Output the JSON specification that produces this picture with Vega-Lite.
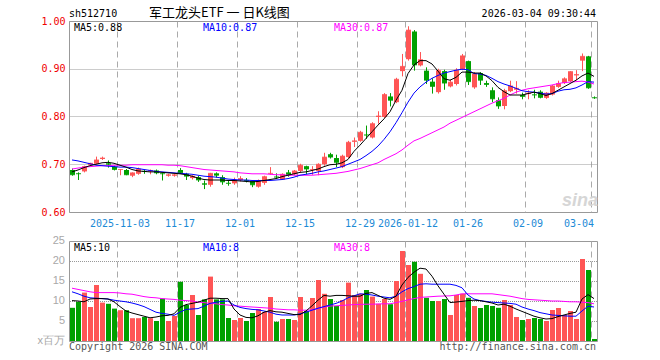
{
 "$schema": "https://vega.github.io/schema/vega-lite/v6.json",
 "background": "#FFFFFF",
 "autosize": {"type": "pad"},
 "padding": {"left": 37, "top": 6, "right": 0, "bottom": 0},
 "config": {
  "view": {"stroke": "#999999", "strokeWidth": 1},
  "axis": {"ticks": false, "domain": false, "labelFont": "DejaVu Sans Mono", "labelFontSize": 10, "labelOverlap": false},
  "text": {"font": "DejaVu Sans Mono", "fontSize": 10}
 },
 "datasets": {
  "k": [
   {"d":"2025-10-22","o":0.688,"h":0.691,"l":0.676,"c":0.678,"v":8.3,"m5":0.684,"m10":0.709,"m30":0.690,"v5":10.1,"v10":12.3,"v30":13.2},
   {"d":"2025-10-23","o":0.681,"h":0.683,"l":0.667,"c":0.680,"v":9.8,"m5":0.688,"m10":0.707,"m30":0.692,"v5":10.0,"v10":11.8,"v30":12.9},
   {"d":"2025-10-24","o":0.685,"h":0.697,"l":0.683,"c":0.695,"v":12.1,"m5":0.693,"m10":0.704,"m30":0.694,"v5":9.8,"v10":11.2,"v30":12.6},
   {"d":"2025-10-27","o":0.698,"h":0.703,"l":0.697,"c":0.702,"v":8.5,"m5":0.697,"m10":0.701,"m30":0.695,"v5":10.5,"v10":10.8,"v30":12.3},
   {"d":"2025-10-28","o":0.701,"h":0.716,"l":0.700,"c":0.709,"v":14.0,"m5":0.700,"m10":0.698,"m30":0.696,"v5":10.6,"v10":10.7,"v30":12.1},
   {"d":"2025-10-29","o":0.711,"h":0.716,"l":0.709,"c":0.713,"v":9.6,"m5":0.703,"m10":0.697,"m30":0.697,"v5":10.6,"v10":10.6,"v30":12.1},
   {"d":"2025-10-30","o":0.702,"h":0.708,"l":0.693,"c":0.700,"v":9.3,"m5":0.704,"m10":0.696,"m30":0.697,"v5":10.5,"v10":10.5,"v30":12.1},
   {"d":"2025-10-31","o":0.695,"h":0.697,"l":0.687,"c":0.689,"v":8.1,"m5":0.702,"m10":0.695,"m30":0.698,"v5":9.8,"v10":10.2,"v30":12.1},
   {"d":"2025-11-03","o":0.688,"h":0.690,"l":0.677,"c":0.689,"v":7.7,"m5":0.698,"m10":0.694,"m30":0.698,"v5":8.6,"v10":10.0,"v30":12.0},
   {"d":"2025-11-04","o":0.688,"h":0.690,"l":0.677,"c":0.678,"v":7.7,"m5":0.694,"m10":0.694,"m30":0.698,"v5":7.5,"v10":9.8,"v30":11.8},
   {"d":"2025-11-05","o":0.676,"h":0.683,"l":0.673,"c":0.682,"v":5.7,"m5":0.689,"m10":0.693,"m30":0.699,"v5":7.0,"v10":9.5,"v30":11.7},
   {"d":"2025-11-06","o":0.680,"h":0.693,"l":0.678,"c":0.690,"v":5.7,"m5":0.686,"m10":0.691,"m30":0.699,"v5":6.6,"v10":9.1,"v30":11.4},
   {"d":"2025-11-07","o":0.686,"h":0.688,"l":0.680,"c":0.685,"v":6.0,"m5":0.685,"m10":0.689,"m30":0.699,"v5":6.2,"v10":8.6,"v30":11.1},
   {"d":"2025-11-10","o":0.685,"h":0.689,"l":0.679,"c":0.687,"v":5.7,"m5":0.684,"m10":0.687,"m30":0.699,"v5":5.8,"v10":7.9,"v30":10.9},
   {"d":"2025-11-11","o":0.687,"h":0.689,"l":0.679,"c":0.682,"v":5.0,"m5":0.684,"m10":0.685,"m30":0.699,"v5":6.0,"v10":7.2,"v30":10.8},
   {"d":"2025-11-12","o":0.681,"h":0.682,"l":0.666,"c":0.680,"v":10.6,"m5":0.683,"m10":0.684,"m30":0.699,"v5":6.3,"v10":6.9,"v30":10.6},
   {"d":"2025-11-13","o":0.676,"h":0.680,"l":0.674,"c":0.678,"v":5.0,"m5":0.682,"m10":0.683,"m30":0.698,"v5":6.4,"v10":6.7,"v30":10.5},
   {"d":"2025-11-14","o":0.676,"h":0.680,"l":0.674,"c":0.678,"v":6.25,"m5":0.681,"m10":0.682,"m30":0.698,"v5":6.8,"v10":6.4,"v30":10.4},
   {"d":"2025-11-17","o":0.688,"h":0.692,"l":0.680,"c":0.682,"v":14.8,"m5":0.680,"m10":0.681,"m30":0.697,"v5":8.4,"v10":7.2,"v30":10.2},
   {"d":"2025-11-18","o":0.680,"h":0.682,"l":0.667,"c":0.675,"v":9.0,"m5":0.678,"m10":0.680,"m30":0.695,"v5":9.1,"v10":7.9,"v30":10.1},
   {"d":"2025-11-19","o":0.671,"h":0.677,"l":0.668,"c":0.675,"v":11.5,"m5":0.675,"m10":0.679,"m30":0.693,"v5":9.4,"v10":8.0,"v30":10.0},
   {"d":"2025-11-20","o":0.673,"h":0.676,"l":0.663,"c":0.667,"v":6.5,"m5":0.671,"m10":0.677,"m30":0.691,"v5":9.7,"v10":8.1,"v30":9.7},
   {"d":"2025-11-21","o":0.660,"h":0.666,"l":0.648,"c":0.658,"v":10.4,"m5":0.668,"m10":0.675,"m30":0.689,"v5":10.2,"v10":8.7,"v30":9.6},
   {"d":"2025-11-24","o":0.657,"h":0.682,"l":0.653,"c":0.681,"v":16.1,"m5":0.667,"m10":0.674,"m30":0.688,"v5":10.7,"v10":9.4,"v30":9.4},
   {"d":"2025-11-25","o":0.681,"h":0.683,"l":0.672,"c":0.677,"v":10.4,"m5":0.667,"m10":0.673,"m30":0.687,"v5":10.7,"v10":9.7,"v30":9.3},
   {"d":"2025-11-26","o":0.673,"h":0.677,"l":0.657,"c":0.663,"v":10.4,"m5":0.667,"m10":0.671,"m30":0.686,"v5":10.6,"v10":9.9,"v30":9.1},
   {"d":"2025-11-27","o":0.661,"h":0.665,"l":0.655,"c":0.660,"v":5.75,"m5":0.666,"m10":0.669,"m30":0.685,"v5":10.6,"v10":10.0,"v30":9.0},
   {"d":"2025-11-28","o":0.660,"h":0.672,"l":0.657,"c":0.666,"v":5.25,"m5":0.666,"m10":0.668,"m30":0.684,"v5":8.0,"v10":9.0,"v30":8.8},
   {"d":"2025-12-01","o":0.667,"h":0.675,"l":0.664,"c":0.670,"v":5.75,"m5":0.665,"m10":0.667,"m30":0.682,"v5":6.5,"v10":8.4,"v30":8.7},
   {"d":"2025-12-02","o":0.667,"h":0.671,"l":0.662,"c":0.666,"v":5.0,"m5":0.664,"m10":0.667,"m30":0.681,"v5":5.9,"v10":8.1,"v30":8.6},
   {"d":"2025-12-03","o":0.665,"h":0.667,"l":0.652,"c":0.657,"v":7.0,"m5":0.663,"m10":0.666,"m30":0.680,"v5":5.8,"v10":7.9,"v30":8.5},
   {"d":"2025-12-04","o":0.653,"h":0.668,"l":0.651,"c":0.666,"v":8.0,"m5":0.664,"m10":0.666,"m30":0.680,"v5":6.3,"v10":7.8,"v30":8.4},
   {"d":"2025-12-05","o":0.661,"h":0.676,"l":0.657,"c":0.674,"v":7.25,"m5":0.666,"m10":0.666,"m30":0.680,"v5":7.2,"v10":7.5,"v30":8.3},
   {"d":"2025-12-08","o":0.680,"h":0.694,"l":0.678,"c":0.681,"v":11.0,"m5":0.668,"m10":0.666,"m30":0.679,"v5":7.6,"v10":7.2,"v30":8.2},
   {"d":"2025-12-09","o":0.674,"h":0.681,"l":0.670,"c":0.673,"v":4.8,"m5":0.670,"m10":0.667,"m30":0.678,"v5":7.3,"v10":6.7,"v30":8.0},
   {"d":"2025-12-10","o":0.668,"h":0.681,"l":0.667,"c":0.679,"v":5.5,"m5":0.674,"m10":0.668,"m30":0.678,"v5":7.2,"v10":6.5,"v30":7.9},
   {"d":"2025-12-11","o":0.683,"h":0.688,"l":0.674,"c":0.678,"v":5.5,"m5":0.677,"m10":0.670,"m30":0.677,"v5":6.9,"v10":6.5,"v30":7.8},
   {"d":"2025-12-12","o":0.679,"h":0.688,"l":0.677,"c":0.686,"v":5.25,"m5":0.680,"m10":0.673,"m30":0.677,"v5":6.6,"v10":6.5,"v30":7.8},
   {"d":"2025-12-15","o":0.686,"h":0.701,"l":0.683,"c":0.698,"v":11.0,"m5":0.683,"m10":0.677,"m30":0.677,"v5":6.6,"v10":6.8,"v30":7.7},
   {"d":"2025-12-16","o":0.696,"h":0.697,"l":0.679,"c":0.690,"v":7.5,"m5":0.684,"m10":0.679,"m30":0.677,"v5":7.5,"v10":7.2,"v30":7.7},
   {"d":"2025-12-17","o":0.688,"h":0.696,"l":0.678,"c":0.689,"v":10.75,"m5":0.687,"m10":0.681,"m30":0.677,"v5":8.8,"v10":7.7,"v30":7.8},
   {"d":"2025-12-18","o":0.686,"h":0.702,"l":0.677,"c":0.700,"v":15.25,"m5":0.690,"m10":0.684,"m30":0.678,"v5":10.2,"v10":8.2,"v30":8.1},
   {"d":"2025-12-19","o":0.700,"h":0.724,"l":0.697,"c":0.715,"v":11.8,"m5":0.695,"m10":0.686,"m30":0.679,"v5":11.4,"v10":8.6,"v30":8.5},
   {"d":"2025-12-22","o":0.721,"h":0.724,"l":0.712,"c":0.715,"v":10.5,"m5":0.699,"m10":0.689,"m30":0.680,"v5":11.2,"v10":9.0,"v30":8.75},
   {"d":"2025-12-23","o":0.713,"h":0.720,"l":0.694,"c":0.704,"v":8.75,"m5":0.700,"m10":0.692,"m30":0.681,"v5":11.4,"v10":9.4,"v30":8.8},
   {"d":"2025-12-24","o":0.694,"h":0.720,"l":0.692,"c":0.717,"v":10.25,"m5":0.703,"m10":0.695,"m30":0.683,"v5":11.4,"v10":10.0,"v30":8.9},
   {"d":"2025-12-25","o":0.715,"h":0.749,"l":0.713,"c":0.746,"v":14.6,"m5":0.710,"m10":0.700,"m30":0.685,"v5":11.3,"v10":10.8,"v30":9.0},
   {"d":"2025-12-26","o":0.747,"h":0.756,"l":0.736,"c":0.749,"v":11.5,"m5":0.727,"m10":0.705,"m30":0.688,"v5":11.2,"v10":11.3,"v30":9.1},
   {"d":"2025-12-29","o":0.749,"h":0.770,"l":0.747,"c":0.767,"v":11.8,"m5":0.740,"m10":0.710,"m30":0.691,"v5":11.2,"v10":11.8,"v30":9.15},
   {"d":"2025-12-30","o":0.762,"h":0.781,"l":0.753,"c":0.761,"v":12.75,"m5":0.754,"m10":0.718,"m30":0.695,"v5":11.9,"v10":11.7,"v30":9.2},
   {"d":"2025-12-31","o":0.756,"h":0.788,"l":0.754,"c":0.785,"v":11.1,"m5":0.768,"m10":0.727,"m30":0.699,"v5":12.1,"v10":11.5,"v30":9.2},
   {"d":"2026-01-05","o":0.799,"h":0.811,"l":0.785,"c":0.801,"v":9.3,"m5":0.782,"m10":0.738,"m30":0.703,"v5":11.4,"v10":11.2,"v30":9.25},
   {"d":"2026-01-06","o":0.799,"h":0.849,"l":0.797,"c":0.846,"v":10.5,"m5":0.795,"m10":0.752,"m30":0.710,"v5":10.7,"v10":11.0,"v30":9.3},
   {"d":"2026-01-07","o":0.842,"h":0.849,"l":0.821,"c":0.834,"v":9.2,"m5":0.810,"m10":0.768,"m30":0.716,"v5":10.4,"v10":10.8,"v30":9.3},
   {"d":"2026-01-08","o":0.830,"h":0.881,"l":0.828,"c":0.878,"v":15.0,"m5":0.834,"m10":0.787,"m30":0.722,"v5":11.2,"v10":11.2,"v30":9.6},
   {"d":"2026-01-09","o":0.895,"h":0.931,"l":0.884,"c":0.905,"v":22.5,"m5":0.855,"m10":0.808,"m30":0.730,"v5":14.0,"v10":12.3,"v30":9.9},
   {"d":"2026-01-12","o":0.920,"h":0.989,"l":0.917,"c":0.981,"v":19.0,"m5":0.890,"m10":0.830,"m30":0.740,"v5":15.9,"v10":13.1,"v30":10.3},
   {"d":"2026-01-13","o":0.978,"h":0.981,"l":0.896,"c":0.908,"v":19.8,"m5":0.908,"m10":0.849,"m30":0.749,"v5":17.2,"v10":13.6,"v30":10.6},
   {"d":"2026-01-14","o":0.907,"h":0.935,"l":0.905,"c":0.919,"v":16.8,"m5":0.917,"m10":0.862,"m30":0.754,"v5":18.2,"v10":14.2,"v30":10.9},
   {"d":"2026-01-15","o":0.896,"h":0.903,"l":0.868,"c":0.876,"v":10.8,"m5":0.917,"m10":0.872,"m30":0.760,"v5":18.0,"v10":14.3,"v30":11.0},
   {"d":"2026-01-16","o":0.873,"h":0.880,"l":0.848,"c":0.863,"v":10.0,"m5":0.910,"m10":0.880,"m30":0.766,"v5":16.2,"v10":14.2,"v30":11.1},
   {"d":"2026-01-19","o":0.851,"h":0.900,"l":0.848,"c":0.896,"v":10.0,"m5":0.895,"m10":0.886,"m30":0.772,"v5":13.8,"v10":14.2,"v30":11.2},
   {"d":"2026-01-20","o":0.895,"h":0.898,"l":0.856,"c":0.870,"v":10.5,"m5":0.879,"m10":0.891,"m30":0.778,"v5":11.7,"v10":14.2,"v30":11.25},
   {"d":"2026-01-21","o":0.863,"h":0.877,"l":0.861,"c":0.872,"v":6.5,"m5":0.876,"m10":0.894,"m30":0.786,"v5":9.6,"v10":14.2,"v30":11.3},
   {"d":"2026-01-22","o":0.868,"h":0.901,"l":0.865,"c":0.897,"v":11.5,"m5":0.882,"m10":0.897,"m30":0.792,"v5":9.75,"v10":13.9,"v30":11.5},
   {"d":"2026-01-23","o":0.899,"h":0.931,"l":0.897,"c":0.927,"v":11.8,"m5":0.893,"m10":0.899,"m30":0.798,"v5":9.9,"v10":13.3,"v30":11.8},
   {"d":"2026-01-26","o":0.916,"h":0.917,"l":0.866,"c":0.873,"v":10.8,"m5":0.893,"m10":0.898,"m30":0.804,"v5":10.1,"v10":11.5,"v30":11.8},
   {"d":"2026-01-27","o":0.861,"h":0.893,"l":0.858,"c":0.889,"v":8.75,"m5":0.891,"m10":0.890,"m30":0.810,"v5":10.2,"v10":10.5,"v30":11.8},
   {"d":"2026-01-28","o":0.891,"h":0.893,"l":0.866,"c":0.876,"v":8.25,"m5":0.891,"m10":0.889,"m30":0.816,"v5":10.1,"v10":10.1,"v30":11.8},
   {"d":"2026-01-29","o":0.870,"h":0.875,"l":0.862,"c":0.867,"v":9.0,"m5":0.885,"m10":0.886,"m30":0.822,"v5":9.8,"v10":9.9,"v30":11.8},
   {"d":"2026-01-30","o":0.855,"h":0.861,"l":0.830,"c":0.837,"v":8.75,"m5":0.875,"m10":0.880,"m30":0.828,"v5":9.5,"v10":9.7,"v30":11.8},
   {"d":"2026-02-02","o":0.834,"h":0.840,"l":0.816,"c":0.822,"v":8.3,"m5":0.861,"m10":0.873,"m30":0.833,"v5":9.0,"v10":9.6,"v30":11.6},
   {"d":"2026-02-03","o":0.822,"h":0.858,"l":0.815,"c":0.854,"v":10.25,"m5":0.852,"m10":0.868,"m30":0.838,"v5":9.2,"v10":9.5,"v30":11.4},
   {"d":"2026-02-04","o":0.853,"h":0.875,"l":0.851,"c":0.864,"v":9.0,"m5":0.845,"m10":0.864,"m30":0.845,"v5":8.7,"v10":9.4,"v30":11.2},
   {"d":"2026-02-05","o":0.856,"h":0.874,"l":0.848,"c":0.859,"v":6.0,"m5":0.845,"m10":0.859,"m30":0.851,"v5":8.0,"v10":9.2,"v30":10.9},
   {"d":"2026-02-06","o":0.845,"h":0.850,"l":0.836,"c":0.842,"v":5.25,"m5":0.845,"m10":0.854,"m30":0.855,"v5":7.4,"v10":8.5,"v30":10.6},
   {"d":"2026-02-09","o":0.847,"h":0.855,"l":0.836,"c":0.849,"v":5.5,"m5":0.848,"m10":0.852,"m30":0.858,"v5":6.8,"v10":8.0,"v30":10.4},
   {"d":"2026-02-10","o":0.846,"h":0.856,"l":0.838,"c":0.845,"v":5.75,"m5":0.851,"m10":0.851,"m30":0.860,"v5":6.2,"v10":7.6,"v30":10.3},
   {"d":"2026-02-11","o":0.852,"h":0.855,"l":0.838,"c":0.840,"v":5.5,"m5":0.848,"m10":0.849,"m30":0.862,"v5":5.8,"v10":7.1,"v30":10.2},
   {"d":"2026-02-12","o":0.839,"h":0.851,"l":0.837,"c":0.849,"v":5.0,"m5":0.844,"m10":0.847,"m30":0.864,"v5":5.5,"v10":6.8,"v30":10.1},
   {"d":"2026-02-13","o":0.846,"h":0.866,"l":0.844,"c":0.864,"v":7.75,"m5":0.848,"m10":0.848,"m30":0.866,"v5":5.6,"v10":6.5,"v30":10.0},
   {"d":"2026-02-24","o":0.862,"h":0.875,"l":0.860,"c":0.869,"v":8.25,"m5":0.855,"m10":0.853,"m30":0.869,"v5":6.1,"v10":6.4,"v30":10.0},
   {"d":"2026-02-25","o":0.870,"h":0.882,"l":0.868,"c":0.879,"v":6.5,"m5":0.862,"m10":0.856,"m30":0.871,"v5":6.5,"v10":6.3,"v30":9.9},
   {"d":"2026-02-26","o":0.874,"h":0.895,"l":0.872,"c":0.894,"v":7.5,"m5":0.869,"m10":0.857,"m30":0.872,"v5":6.9,"v10":6.2,"v30":9.8},
   {"d":"2026-02-27","o":0.886,"h":0.897,"l":0.876,"c":0.888,"v":5.5,"m5":0.876,"m10":0.860,"m30":0.873,"v5":7.2,"v10":6.2,"v30":9.8},
   {"d":"2026-03-02","o":0.917,"h":0.932,"l":0.895,"c":0.926,"v":20.5,"m5":0.885,"m10":0.866,"m30":0.874,"v5":10.5,"v10":7.5,"v30":9.7},
   {"d":"2026-03-03","o":0.926,"h":0.927,"l":0.858,"c":0.860,"v":17.75,"m5":0.891,"m10":0.873,"m30":0.872,"v5":11.6,"v10":8.7,"v30":9.6},
   {"d":"2026-03-04","o":0.840,"h":0.842,"l":0.837,"c":0.839,"v":0.5,"m5":0.884,"m10":0.872,"m30":0.868,"v5":10.6,"v10":8.5,"v30":9.3}
  ],
  "vt": [
   {"t": 0, "s": "x百万"},
   {"t": 5, "s": "5"},
   {"t": 10, "s": "10"},
   {"t": 15, "s": "15"},
   {"t": 20, "s": "20"},
   {"t": 25, "s": "25"}
  ]
 },
 "spacing": 29,
 "bounds": "flush",
 "vconcat": [
  {
   "width": 528,
   "height": 191,
   "data": {"name": "k"},
   "encoding": {
    "x": {"field": "d", "type": "ordinal", "title": null,
     "scale": {"type": "band", "paddingInner": 0, "paddingOuter": 0},
     "axis": {
      "values": ["2025-11-03","2025-11-17","2025-12-01","2025-12-15","2025-12-29","2026-01-12","2026-01-26","2026-02-09","2026-03-04"],
      "bandPosition": 0,
      "labelExpr": "datum.value == '2025-11-03' || datum.value == '2026-01-12' ? datum.value : slice(datum.value, 5)",
      "labelAngle": 0,
      "labelColor": "#1C8AD6",
      "labelPadding": 6,
      "labelAlign": {"condition": {"test": "datum.value == '2026-03-04'", "value": "right"}, "value": "center"},
      "grid": true, "gridColor": "#AAAAAA", "gridDash": [6, 4], "gridWidth": 1
     }
    }
   },
   "layer": [
    {
     "mark": {"type": "rule", "xOffset": 0.5, "strokeWidth": 1},
     "encoding": {
      "y": {"field": "l", "type": "quantitative", "title": null,
       "scale": {"domain": [0.6, 1.0], "zero": false, "nice": false},
       "axis": {"values": [0.6, 0.7, 0.8, 0.9, 1.0], "tickCount": 5, "format": ".2f", "labelColor": "#F00000", "labelPadding": 4,
        "grid": true, "gridColor": "#999999", "gridDash": [1, 1]}},
      "y2": {"field": "h"},
      "color": {"condition": {"test": "datum.c >= datum.o", "value": "#FF5555"}, "value": "#00A000"}
     }
    },
    {
     "mark": {"type": "bar", "size": 5, "xOffset": 0.5},
     "encoding": {
      "y": {"field": "o", "type": "quantitative", "title": null},
      "y2": {"field": "c"},
      "color": {"condition": {"test": "datum.c >= datum.o", "value": "#FF5555"}, "value": "#00A000"}
     }
    },
    {
     "mark": {"type": "tick", "size": 5, "thickness": 1, "xOffset": 0.5},
     "encoding": {
      "y": {"field": "c", "type": "quantitative", "title": null},
      "color": {"condition": {"test": "datum.c >= datum.o", "value": "#FF5555"}, "value": "#00A000"}
     }
    },
    {"mark": {"type": "line", "color": "#FF00FF", "strokeWidth": 1}, "encoding": {"y": {"field": "m30", "type": "quantitative", "title": null}}},
    {"mark": {"type": "line", "color": "#0000FF", "strokeWidth": 1}, "encoding": {"y": {"field": "m10", "type": "quantitative", "title": null}}},
    {"mark": {"type": "line", "color": "#000000", "strokeWidth": 1}, "encoding": {"y": {"field": "m5", "type": "quantitative", "title": null}}},
    {
     "data": {"values": [{}]},
     "mark": {"type": "text", "align": "left", "baseline": "alphabetic", "dx": -3, "dy": -4, "color": "#000000"},
     "encoding": {"x": {"datum": "2025-10-22"}, "y": {"datum": 1.0}, "text": {"value": "sh512710"}}
    },
    {
     "data": {"values": [{}]},
     "mark": {"type": "text", "align": "left", "baseline": "alphabetic", "dx": -1, "dy": -4, "font": "Noto Sans CJK SC", "fontSize": 13, "color": "#000000"},
     "encoding": {"x": {"datum": "2025-11-10"}, "y": {"datum": 1.0}, "text": {"value": "军工龙头ETF 一 日K线图"}}
    },
    {
     "data": {"values": [{}]},
     "mark": {"type": "text", "align": "right", "baseline": "alphabetic", "dx": 2, "dy": -4, "color": "#000000"},
     "encoding": {"x": {"datum": "2026-03-04"}, "y": {"datum": 1.0}, "text": {"value": "2026-03-04 09:30:44"}}
    },
    {
     "data": {"values": [{}]},
     "mark": {"type": "text", "align": "left", "baseline": "alphabetic", "dx": 2, "dy": 10, "color": "#000000"},
     "encoding": {"x": {"datum": "2025-10-22"}, "y": {"datum": 1.0}, "text": {"value": "MA5:0.88"}}
    },
    {
     "data": {"values": [{}]},
     "mark": {"type": "text", "align": "left", "baseline": "alphabetic", "dx": -1, "dy": 10, "color": "#0000FF"},
     "encoding": {"x": {"datum": "2025-11-21"}, "y": {"datum": 1.0}, "text": {"value": "MA10:0.87"}}
    },
    {
     "data": {"values": [{}]},
     "mark": {"type": "text", "align": "left", "baseline": "alphabetic", "dx": -2, "dy": 10, "color": "#FF00FF"},
     "encoding": {"x": {"datum": "2025-12-23"}, "y": {"datum": 1.0}, "text": {"value": "MA30:0.87"}}
    },
    {
     "data": {"values": [{}]},
     "mark": {"type": "text", "align": "center", "baseline": "alphabetic", "dx": 4, "dy": -6, "font": "Liberation Sans", "fontSize": 18, "fontWeight": "bold", "fontStyle": "italic", "color": "#D6D6D6"},
     "encoding": {"x": {"datum": "2026-02-27"}, "y": {"datum": 0.6}, "text": {"value": "sina"}}
    }
   ]
  },
  {
   "width": 528,
   "height": 100,
   "data": {"name": "k"},
   "encoding": {
    "x": {"field": "d", "type": "ordinal", "title": null,
     "scale": {"type": "band", "paddingInner": 0, "paddingOuter": 0},
     "axis": {
      "values": ["2025-11-03","2025-11-17","2025-12-01","2025-12-15","2025-12-29","2026-01-12","2026-01-26","2026-02-09","2026-03-04"],
      "bandPosition": 0, "labels": false,
      "grid": true, "gridColor": "#AAAAAA", "gridDash": [6, 4], "gridWidth": 1
     }
    }
   },
   "layer": [
    {
     "data": {"name": "vt"},
     "transform": [{"filter": "datum.t > 0 && datum.t < 25"}],
     "mark": {"type": "rule", "color": "#999999", "strokeWidth": 1, "strokeDash": [1, 1], "yOffset": 0.5},
     "encoding": {"x": null, "y": {"field": "t", "type": "quantitative", "title": null, "axis": null, "scale": {"domain": [0, 25], "nice": false}}}
    },
    {
     "mark": {"type": "bar", "size": 5, "xOffset": 0.5},
     "encoding": {
      "y": {"field": "v", "type": "quantitative", "title": null, "axis": null},
      "color": {"condition": {"test": "datum.c >= datum.o", "value": "#FF5555"}, "value": "#00A000"}
     }
    },
    {"mark": {"type": "line", "color": "#FF00FF", "strokeWidth": 1}, "encoding": {"y": {"field": "v30", "type": "quantitative", "title": null, "axis": null}}},
    {"mark": {"type": "line", "color": "#0000FF", "strokeWidth": 1}, "encoding": {"y": {"field": "v10", "type": "quantitative", "title": null, "axis": null}}},
    {"mark": {"type": "line", "color": "#000000", "strokeWidth": 1}, "encoding": {"y": {"field": "v5", "type": "quantitative", "title": null, "axis": null}}},
    {
     "data": {"name": "vt"},
     "mark": {"type": "text", "align": "right", "baseline": "middle", "dx": -7, "font": "Liberation Sans", "fontSize": 11, "color": "#A8A8A8"},
     "encoding": {"x": {"datum": "2025-10-22"}, "y": {"field": "t", "type": "quantitative", "title": null, "axis": null}, "text": {"field": "s"}}
    },
    {
     "data": {"values": [{}]},
     "mark": {"type": "text", "align": "left", "baseline": "alphabetic", "dx": 2, "dy": 9.5, "color": "#000000"},
     "encoding": {"x": {"datum": "2025-10-22"}, "y": {"datum": 25, "axis": null}, "text": {"value": "MA5:10"}}
    },
    {
     "data": {"values": [{}]},
     "mark": {"type": "text", "align": "left", "baseline": "alphabetic", "dx": -1, "dy": 9.5, "color": "#0000FF"},
     "encoding": {"x": {"datum": "2025-11-21"}, "y": {"datum": 25, "axis": null}, "text": {"value": "MA10:8"}}
    },
    {
     "data": {"values": [{}]},
     "mark": {"type": "text", "align": "left", "baseline": "alphabetic", "dx": -2, "dy": 9.5, "color": "#FF00FF"},
     "encoding": {"x": {"datum": "2025-12-23"}, "y": {"datum": 25, "axis": null}, "text": {"value": "MA30:8"}}
    },
    {
     "data": {"values": [{}]},
     "mark": {"type": "text", "align": "left", "baseline": "alphabetic", "dx": -3, "dy": 9, "color": "#555555"},
     "encoding": {"x": {"datum": "2025-10-22"}, "y": {"datum": 0, "axis": null}, "text": {"value": "Copyright 2026 SINA.COM"}}
    },
    {
     "data": {"values": [{}]},
     "mark": {"type": "text", "align": "right", "baseline": "alphabetic", "dx": 2, "dy": 9, "color": "#555555"},
     "encoding": {"x": {"datum": "2026-03-04"}, "y": {"datum": 0, "axis": null}, "text": {"value": "http://finance.sina.com.cn"}}
    }
   ]
  }
 ]
}
